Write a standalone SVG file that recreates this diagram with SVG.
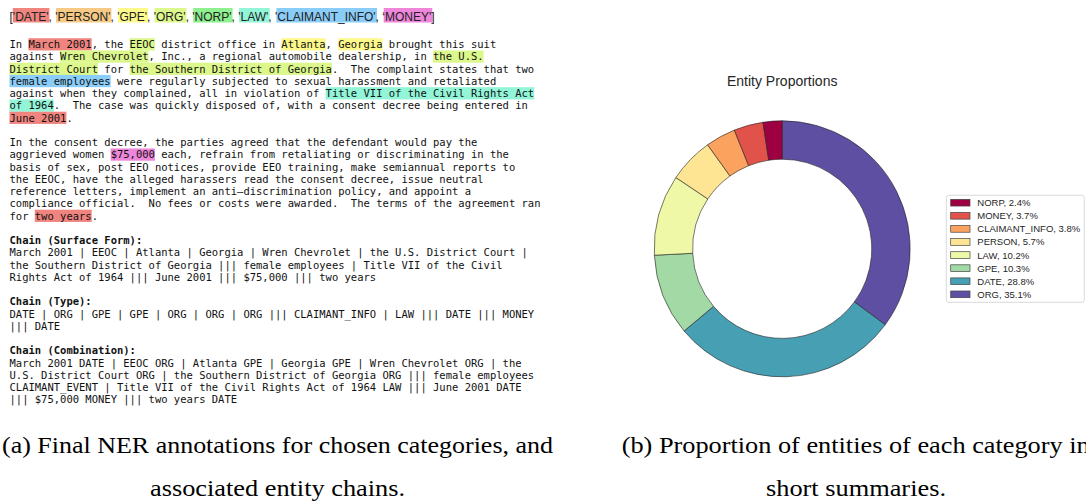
<svg xmlns="http://www.w3.org/2000/svg" width="1086" height="502" viewBox="0 0 1086 502">
<style>
.mono{font-family:"DejaVu Sans Mono",monospace;font-size:10.5px;fill:#111;white-space:pre}
.b{font-weight:bold}
.hdr{font-family:"Liberation Sans",Arial,sans-serif;font-size:12px;fill:#222;white-space:pre}
.cap{font-family:"Liberation Serif","Times New Roman",serif;font-size:24px;fill:#000}
.title{font-family:"Liberation Sans",Arial,sans-serif;font-size:14px;fill:#262626}
.leg{font-family:"Liberation Sans",Arial,sans-serif;font-size:9.5px;fill:#262626}
.w{stroke:#222;stroke-width:0.6}
.sw{stroke:#444;stroke-width:0.7}
.DATE{fill:#f08580}.PERSON{fill:#f6ca84}.GPE{fill:#fdf98a}.ORG{fill:#dcf78c}.NORP{fill:#8ef08e}.LAW{fill:#92f5d8}.CLAIM{fill:#8acdf8}.MONEY{fill:#ee86da}
</style>
<rect width="1086" height="502" fill="#fff"/>
<g id="header">
<rect class="DATE" x="12.8" y="8" width="36.6" height="14.5"/>
<rect class="PERSON" x="56.1" y="8" width="55.3" height="14.5"/>
<rect class="GPE" x="118.0" y="8" width="30.0" height="14.5"/>
<rect class="ORG" x="154.6" y="8" width="31.9" height="14.5"/>
<rect class="NORP" x="193.2" y="8" width="39.3" height="14.5"/>
<rect class="LAW" x="239.1" y="8" width="30.6" height="14.5"/>
<rect class="CLAIM" x="276.4" y="8" width="100.6" height="14.5"/>
<rect class="MONEY" x="383.7" y="8" width="48.6" height="14.5"/>
<text class="hdr" x="9.5" y="20.7">['DATE', 'PERSON', 'GPE', 'ORG', 'NORP', 'LAW', 'CLAIMANT_INFO', ‘MONEY']</text>
</g>
<g id="annotated-text">
<rect class="DATE" x="28.47" y="38.2" width="63.22" height="12.25"/>
<rect class="ORG" x="129.62" y="38.2" width="25.29" height="12.25"/>
<rect class="GPE" x="281.35" y="38.2" width="44.25" height="12.25"/>
<rect class="GPE" x="338.24" y="38.2" width="44.25" height="12.25"/>
<rect class="ORG" x="60.08" y="50.45" width="88.51" height="12.25"/>
<rect class="ORG" x="433.07" y="50.45" width="50.58" height="12.25"/>
<rect class="ORG" x="9.5" y="62.7" width="88.51" height="12.25"/>
<rect class="ORG" x="129.62" y="62.7" width="202.3" height="12.25"/>
<rect class="CLAIM" x="9.5" y="74.95" width="101.15" height="12.25"/>
<rect class="LAW" x="325.6" y="87.2" width="208.63" height="12.25"/>
<rect class="LAW" x="9.5" y="99.45" width="44.25" height="12.25"/>
<rect class="DATE" x="9.5" y="111.7" width="56.9" height="12.25"/>
<rect class="MONEY" x="110.65" y="148.45" width="44.25" height="12.25"/>
<rect class="DATE" x="34.79" y="209.7" width="56.9" height="12.25"/>
<text class="mono" x="9.5" y="48.0">In March 2001, the EEOC district office in Atlanta, Georgia brought this suit</text>
<text class="mono" x="9.5" y="60.25">against Wren Chevrolet, Inc., a regional automobile dealership, in the U.S.</text>
<text class="mono" x="9.5" y="72.5">District Court for the Southern District of Georgia.  The complaint states that two</text>
<text class="mono" x="9.5" y="84.75">female employees were regularly subjected to sexual harassment and retaliated</text>
<text class="mono" x="9.5" y="97.0">against when they complained, all in violation of Title VII of the Civil Rights Act</text>
<text class="mono" x="9.5" y="109.25">of 1964.  The case was quickly disposed of, with a consent decree being entered in</text>
<text class="mono" x="9.5" y="121.5">June 2001.</text>
<text class="mono" x="9.5" y="146.0">In the consent decree, the parties agreed that the defendant would pay the</text>
<text class="mono" x="9.5" y="158.25">aggrieved women $75,000 each, refrain from retaliating or discriminating in the</text>
<text class="mono" x="9.5" y="170.5">basis of sex, post EEO notices, provide EEO training, make semiannual reports to</text>
<text class="mono" x="9.5" y="182.75">the EEOC, have the alleged harassers read the consent decree, issue neutral</text>
<text class="mono" x="9.5" y="195.0">reference letters, implement an anti–discrimination policy, and appoint a</text>
<text class="mono" x="9.5" y="207.25">compliance official.  No fees or costs were awarded.  The terms of the agreement ran</text>
<text class="mono" x="9.5" y="219.5">for two years.</text>
</g>
<g id="chains">
<text class="mono b" x="9.5" y="244.0">Chain (Surface Form):</text>
<text class="mono" x="9.5" y="256.25">March 2001 | EEOC | Atlanta | Georgia | Wren Chevrolet | the U.S. District Court |</text>
<text class="mono" x="9.5" y="268.5">the Southern District of Georgia ||| female employees | Title VII of the Civil</text>
<text class="mono" x="9.5" y="280.75">Rights Act of 1964 ||| June 2001 ||| $75,000 ||| two years</text>
<text class="mono b" x="9.5" y="305.25">Chain (Type):</text>
<text class="mono" x="9.5" y="317.5">DATE | ORG | GPE | GPE | ORG | ORG | ORG ||| CLAIMANT_INFO | LAW ||| DATE ||| MONEY</text>
<text class="mono" x="9.5" y="329.75">||| DATE</text>
<text class="mono b" x="9.5" y="354.25">Chain (Combination):</text>
<text class="mono" x="9.5" y="366.5">March 2001 DATE | EEOC ORG | Atlanta GPE | Georgia GPE | Wren Chevrolet ORG | the</text>
<text class="mono" x="9.5" y="378.75">U.S. District Court ORG | the Southern District of Georgia ORG ||| female employees</text>
<text class="mono" x="9.5" y="391.0">CLAIMANT_EVENT | Title VII of the Civil Rights Act of 1964 LAW ||| June 2001 DATE</text>
<text class="mono" x="9.5" y="403.25">||| $75,000 MONEY ||| two years DATE</text>
</g>
<g id="donut">
<text class="title" x="782.2" y="85.5" text-anchor="middle">Entity Proportions</text>
<path class="w" fill="#5e4fa2" d="M782.2,120.8 A128,128 0 0 1 885.24,324.74 L854.33,301.96 A89.6,89.6 0 0 0 782.2,159.2 Z"/>
<path class="w" fill="#479fb3" d="M885.24,324.74 A128,128 0 0 1 684.09,331.01 L713.52,306.35 A89.6,89.6 0 0 0 854.33,301.96 Z"/>
<path class="w" fill="#a3d9a4" d="M684.09,331.01 A128,128 0 0 1 654.36,255.23 L692.71,253.30 A89.6,89.6 0 0 0 713.52,306.35 Z"/>
<path class="w" fill="#eff8a6" d="M654.36,255.23 A128,128 0 0 1 675.88,177.53 L707.78,198.91 A89.6,89.6 0 0 0 692.71,253.30 Z"/>
<path class="w" fill="#fee593" d="M675.88,177.53 A128,128 0 0 1 707.60,144.79 L729.98,175.99 A89.6,89.6 0 0 0 707.78,198.91 Z"/>
<path class="w" fill="#fba35e" d="M707.60,144.79 A128,128 0 0 1 734.34,130.08 L748.70,165.70 A89.6,89.6 0 0 0 729.98,175.99 Z"/>
<path class="w" fill="#e1524a" d="M734.34,130.08 A128,128 0 0 1 762.97,122.25 L768.74,160.21 A89.6,89.6 0 0 0 748.70,165.70 Z"/>
<path class="w" fill="#9e0142" d="M762.97,122.25 A128,128 0 0 1 782.2,120.8 L782.2,159.2 A89.6,89.6 0 0 0 768.74,160.21 Z"/>
</g>
<g id="legend">
<rect x="946.3" y="195.3" width="138" height="107" rx="2.5" fill="#fff" stroke="#d0d0d0" stroke-width="0.8"/>
<rect class="sw" x="950.7" y="199.35" width="19.3" height="6.7" fill="#9e0142"/>
<rect class="sw" x="950.7" y="212.44" width="19.3" height="6.7" fill="#e1524a"/>
<rect class="sw" x="950.7" y="225.53" width="19.3" height="6.7" fill="#fba35e"/>
<rect class="sw" x="950.7" y="238.62" width="19.3" height="6.7" fill="#fee593"/>
<rect class="sw" x="950.7" y="251.71" width="19.3" height="6.7" fill="#eff8a6"/>
<rect class="sw" x="950.7" y="264.80" width="19.3" height="6.7" fill="#a3d9a4"/>
<rect class="sw" x="950.7" y="277.89" width="19.3" height="6.7" fill="#479fb3"/>
<rect class="sw" x="950.7" y="290.98" width="19.3" height="6.7" fill="#5e4fa2"/>
<text class="leg" x="977.3" y="206.1">NORP, 2.4%</text>
<text class="leg" x="977.3" y="219.2">MONEY, 3.7%</text>
<text class="leg" x="977.3" y="232.3">CLAIMANT_INFO, 3.8%</text>
<text class="leg" x="977.3" y="245.4">PERSON, 5.7%</text>
<text class="leg" x="977.3" y="258.5">LAW, 10.2%</text>
<text class="leg" x="977.3" y="271.6">GPE, 10.3%</text>
<text class="leg" x="977.3" y="284.7">DATE, 28.8%</text>
<text class="leg" x="977.3" y="297.8">ORG, 35.1%</text>
</g>
<g id="captions">
<text class="cap" x="2" y="452.5" textLength="551" lengthAdjust="spacingAndGlyphs">(a) Final NER annotations for chosen categories, and</text>
<text class="cap" x="150" y="496" textLength="255" lengthAdjust="spacingAndGlyphs">associated entity chains.</text>
<text class="cap" x="621.7" y="452.5" textLength="468" lengthAdjust="spacingAndGlyphs">(b) Proportion of entities of each category in</text>
<text class="cap" x="766" y="496" textLength="180" lengthAdjust="spacingAndGlyphs">short summaries.</text>
</g>
</svg>
